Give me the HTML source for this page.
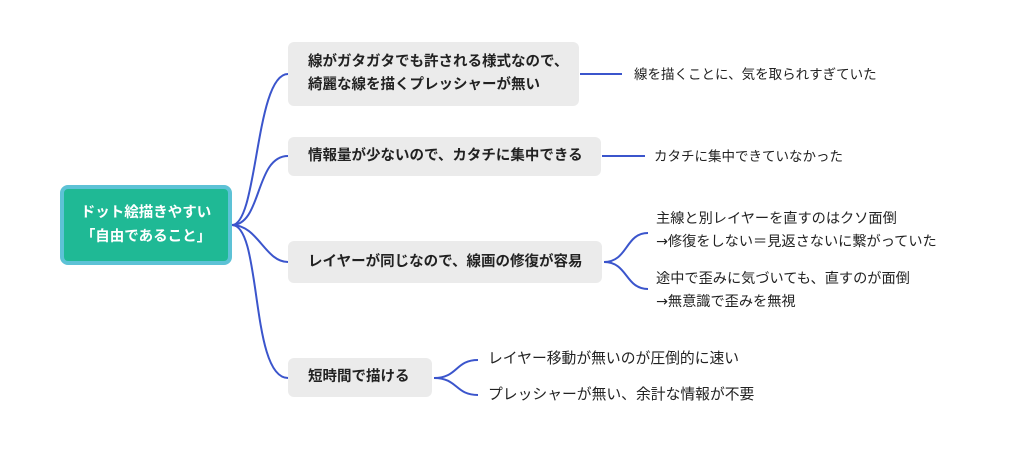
<!DOCTYPE html>
<html><head><meta charset="utf-8"><style>
body{margin:0;width:1024px;height:455px;background:#fff;position:relative;overflow:hidden;font-family:"Liberation Sans","Noto Sans CJK JP",sans-serif;}
.n{position:absolute;background:#ebebeb;border-radius:6px;font-weight:bold;font-size:14.5px;color:#222;box-sizing:border-box;padding-left:20px;display:flex;align-items:center;line-height:23px;}
.t{position:absolute;font-size:13.5px;color:#222;line-height:23px;white-space:nowrap;}
.root{position:absolute;left:60px;top:185px;width:172px;height:80px;box-sizing:border-box;background:#1fb995;border:4px solid #5dc2d6;border-radius:8px;color:#fff;font-weight:bold;font-size:14.5px;text-align:center;display:flex;align-items:center;justify-content:center;line-height:24px;}
</style></head><body>
<svg width="1024" height="455" style="position:absolute;left:0;top:0" fill="none" stroke="#3b55cc" stroke-width="2">
<path d="M232 225 C258 225 255 74 288 74"/>
<path d="M232 225 C262 225 255 156 288 156"/>
<path d="M232 225 C258 225 265 262 288 262"/>
<path d="M232 225 C262 225 250 378 288 378"/>
<path d="M580 74 H622"/>
<path d="M602 156 H645"/>
<path d="M604 262 C628 262 625 233 648 233"/>
<path d="M604 262 C628 262 625 289 648 289"/>
<path d="M434 378 C458 378 455 360 478 360"/>
<path d="M434 378 C458 378 455 395 478 395"/>
</svg>
<div class="root">ドット絵描きやすい<br>「自由であること」</div>
<div class="n" style="left:288px;top:42px;width:291px;height:64px">線がガタガタでも許される様式なので、<br>綺麗な線を描くプレッシャーが無い</div>
<div class="n" style="left:288px;top:137px;width:313px;height:39px">情報量が少ないので、カタチに集中できる</div>
<div class="n" style="left:288px;top:241px;width:314px;height:42px">レイヤーが同じなので、線画の修復が容易</div>
<div class="n" style="left:288px;top:358px;width:144px;height:39px">短時間で描ける</div>
<div class="t" style="left:634px;top:63px">線を描くことに、気を取られすぎていた</div>
<div class="t" style="left:654px;top:145px">カタチに集中できていなかった</div>
<div class="t" style="left:656px;top:208px;font-size:14.2px">主線と別レイヤーを直すのはクソ面倒<br><span style="font-family:'DejaVu Sans'">→</span>修復をしない＝見返さないに繋がっていた</div>
<div class="t" style="left:656px;top:268px;font-size:14.2px">途中で歪みに気づいても、直すのが面倒<br><span style="font-family:'DejaVu Sans'">→</span>無意識で歪みを無視</div>
<div class="t" style="left:488px;top:348px;font-size:14.8px">レイヤー移動が無いのが圧倒的に速い</div>
<div class="t" style="left:488px;top:384px;font-size:14.8px">プレッシャーが無い、余計な情報が不要</div>
</body></html>
